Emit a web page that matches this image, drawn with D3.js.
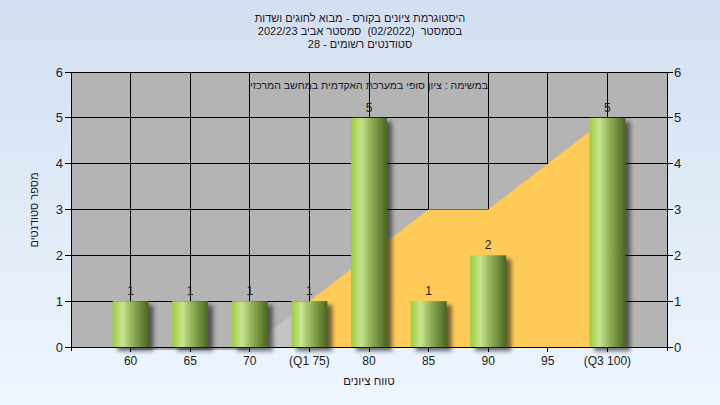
<!DOCTYPE html>
<html><head><meta charset="utf-8">
<script src="https://cdn.jsdelivr.net/npm/d3@7"></script>
<style>
html,body{margin:0;padding:0;}
body{width:720px;height:405px;overflow:hidden;}
svg text{font-family:"Liberation Sans",Arial,sans-serif;}
</style>
</head><body>
<svg id="c" width="720" height="405"></svg>
<script>
const titleLines = ["היסטוגרמת ציונים בקורס - מבוא לחוגים ושדות", "בסמסטר  (02/2022)  סמסטר אביב 2022/23", "סטודנטים רשומים - 28"];
const subTitle = "במשימה : ציון סופי במערכת האקדמית במחשב המרכזי";
const yAxisTitle = "מספר סטודנטים";
const xAxisTitle = "טווח ציונים";
const categories = ["60","65","70","75","80","85","90","95","100"];
const tickLabels = ["60","65","70","(Q1 75)","80","85","90","95","(Q3 100)"];
const counts = [1,1,1,1,5,1,2,0,5];
const belowCats = ["70","75"];
const belowVals = [0,1];
const rangeCats = ["75","80","85","90","95","100"];
const rangeVals = [1,2,3,3,4,5];
const yTicks = [0,1,2,3,4,5,6];

const svg = d3.select("#c");
const W = 720, H = 405;
const L = 71, R = 667, T = 72, B = 347;

const defs = svg.append("defs");
const bg = defs.append("linearGradient").attr("id","bg").attr("x1",0).attr("y1",0).attr("x2",0).attr("y2",1);
bg.append("stop").attr("offset","0%").attr("stop-color","#d3dff0");
bg.append("stop").attr("offset","100%").attr("stop-color","#eef6fe");
const bar = defs.append("linearGradient").attr("id","bar").attr("x1",0).attr("y1",0).attr("x2",1).attr("y2",0);
[["0%","#9dcc3e"],["28%","#c8e48e"],["55%","#93b25a"],["100%","#4a6620"]].forEach(s=>bar.append("stop").attr("offset",s[0]).attr("stop-color",s[1]));
const f = defs.append("filter").attr("id","sh").attr("x","-50%").attr("y","-50%").attr("width","200%").attr("height","200%");
f.append("feGaussianBlur").attr("stdDeviation",2);

svg.append("rect").attr("width",W).attr("height",H).attr("fill","url(#bg)");

const x = d3.scalePoint().domain(categories).range([L,R]).padding(1);
const y = d3.scaleLinear().domain([0,6]).range([B,T]);

svg.append("rect").attr("x",L).attr("y",T).attr("width",R-L).attr("height",B-T).attr("fill","#b4b4b4");

const g = svg.append("g");
g.selectAll("line.h").data(yTicks).join("line")
  .attr("x1",L).attr("x2",R).attr("y1",d=>y(d)).attr("y2",d=>y(d))
  .attr("stroke","#000").attr("stroke-width",1).attr("shape-rendering","crispEdges");
g.selectAll("line.v").data(categories).join("line")
  .attr("x1",d=>x(d)).attr("x2",d=>x(d)).attr("y1",T).attr("y2",B)
  .attr("stroke","#000").attr("stroke-width",1).attr("shape-rendering","crispEdges");

const area = d3.area().x(d=>x(d[0])).y0(y(0)).y1(d=>y(d[1]));
svg.append("path").datum(belowCats.map((c,i)=>[c,belowVals[i]]))
  .attr("d",area).attr("fill","#c4c4c4");
svg.append("path").datum(rangeCats.map((c,i)=>[c,rangeVals[i]]))
  .attr("d",area).attr("fill","#fecb58");
svg.append("line").attr("x1",x("60")).attr("x2",x("70")).attr("y1",y(0)+2).attr("y2",y(0)+2)
  .attr("stroke","#666").attr("stroke-width",1);

svg.append("line").attr("x1",L).attr("x2",R).attr("y1",B).attr("y2",B).attr("stroke","#000").attr("shape-rendering","crispEdges");
svg.append("line").attr("x1",L).attr("x2",L).attr("y1",T).attr("y2",B+4).attr("stroke","#000").attr("shape-rendering","crispEdges");
svg.append("line").attr("x1",R).attr("x2",R).attr("y1",T).attr("y2",B+4).attr("stroke","#000").attr("shape-rendering","crispEdges");

const bw = 36;
const data = categories.map((c,i)=>({c, v:counts[i]})).filter(d=>d.v>0);
svg.append("g").selectAll("rect").data(data).join("rect")
  .attr("x",d=>x(d.c)-bw/2+5).attr("y",d=>y(d.v)+4).attr("width",bw).attr("height",d=>y(0)-y(d.v))
  .attr("fill","#222").attr("opacity",0.65).attr("filter","url(#sh)");
svg.append("g").selectAll("rect").data(data).join("rect")
  .attr("x",d=>x(d.c)-bw/2).attr("y",d=>y(d.v)).attr("width",bw).attr("height",d=>y(0)-y(d.v))
  .attr("fill","url(#bar)");
svg.append("g").selectAll("text").data(data).join("text")
  .attr("x",d=>x(d.c)).attr("y",d=>y(d.v)-6).attr("text-anchor","middle")
  .attr("font-size",12).attr("fill","#1a1a1a").text(d=>d.v);

const yl = svg.append("g");
yl.selectAll("line.l").data(yTicks).join("line").attr("x1",L-6).attr("x2",L).attr("y1",d=>y(d)).attr("y2",d=>y(d)).attr("stroke","#000").attr("shape-rendering","crispEdges");
yl.selectAll("line.r").data(yTicks).join("line").attr("x1",R).attr("x2",R+6).attr("y1",d=>y(d)).attr("y2",d=>y(d)).attr("stroke","#000").attr("shape-rendering","crispEdges");
yl.selectAll("text.l").data(yTicks).join("text").attr("x",L-8).attr("y",d=>y(d)+4.5).attr("text-anchor","end").attr("font-size",13).attr("fill","#222").text(d=>d);
yl.selectAll("text.r").data(yTicks).join("text").attr("x",R+7).attr("y",d=>y(d)+4.5).attr("text-anchor","start").attr("font-size",13).attr("fill","#222").text(d=>d);

const xl = svg.append("g");
xl.selectAll("line").data(categories).join("line").attr("x1",d=>x(d)).attr("x2",d=>x(d)).attr("y1",B).attr("y2",B+5).attr("stroke","#000").attr("shape-rendering","crispEdges");
xl.selectAll("text").data(categories).join("text").attr("x",d=>x(d)).attr("y",B+18).attr("text-anchor","middle").attr("font-size",12).attr("fill","#222").text((d,i)=>tickLabels[i]);

svg.append("g").selectAll("text").data(titleLines).join("text")
  .attr("x",360).attr("y",(d,i)=>22+i*13).attr("text-anchor","middle").attr("direction","rtl")
  .style("white-space","pre")
  .attr("font-size",11).attr("fill","#1a1a2a").text(d=>d);
svg.append("text").attr("x",369).attr("y",89).attr("text-anchor","middle").attr("direction","rtl")
  .attr("font-size",10.5).attr("fill","#1a1a2a").text(subTitle);
svg.append("text").attr("x",369).attr("y",385).attr("text-anchor","middle").attr("direction","rtl")
  .attr("font-size",11.5).attr("fill","#1a1a2a").text(xAxisTitle);
svg.append("text").attr("transform","translate(38,210) rotate(-90)").attr("text-anchor","middle").attr("direction","rtl")
  .attr("font-size",11).attr("fill","#1a1a2a").text(yAxisTitle);
</script>
</body></html>
